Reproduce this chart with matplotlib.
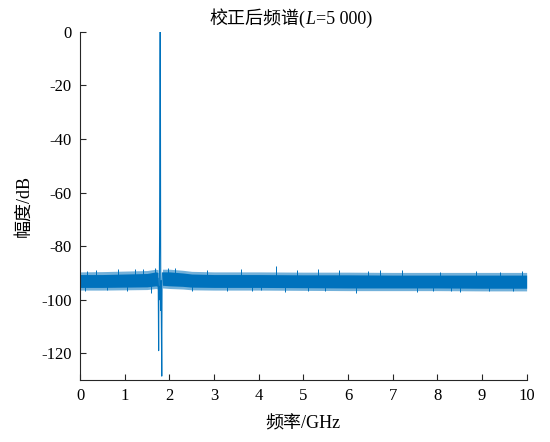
"""Corrected spectrum plot (L = 5 000), MATLAB-style look."""

import matplotlib
matplotlib.use("Agg")
import matplotlib.pyplot as plt
from matplotlib.offsetbox import AnnotationBbox, HPacker, TextArea

# noise floor envelope (GHz, dB)
band_freq_left = [0.0, 0.5, 1.0, 1.5, 1.70, 1.745]
band_core_hi_left = [-90.6, -90.6, -90.4, -90.2, -89.6, -89.8]
band_core_lo_left = [-95.4, -95.4, -95.3, -95.2, -94.8, -95.0]
band_edge_hi_left = [-89.6, -89.5, -89.3, -89.1, -88.6, -88.8]
band_edge_lo_left = [-96.4, -96.4, -96.3, -96.2, -95.8, -96.0]

band_freq_right = [1.845, 2.0, 2.3, 2.5, 3.0, 4.0, 5.0, 6.0, 7.0, 8.0, 9.0, 10.0]
band_core_hi_right = [-89.6, -89.6, -90.0, -90.4, -90.6, -90.6, -90.7, -90.7, -90.8, -90.8, -90.8, -90.8]
band_core_lo_right = [-94.6, -94.8, -95.0, -95.3, -95.4, -95.4, -95.5, -95.6, -95.6, -95.6, -95.7, -95.7]
band_edge_hi_right = [-88.6, -88.6, -89.0, -89.4, -89.6, -89.6, -89.7, -89.7, -89.8, -89.8, -89.8, -89.8]
band_edge_lo_right = [-95.6, -95.8, -96.0, -96.3, -96.4, -96.4, -96.5, -96.6, -96.6, -96.6, -96.7, -96.7]

# isolated noise spikes that stick out of the band
spike_freq = [0.11, 0.15, 0.35, 0.60, 0.85, 1.05, 1.23, 1.41, 1.60, 1.68, 1.97,
              2.12, 2.50, 2.85, 3.30, 3.60, 3.85, 4.06, 4.38, 4.60, 4.85, 5.10,
              5.33, 5.48, 5.80, 6.19, 6.45, 6.71, 7.20, 7.55, 7.90, 8.05, 8.30,
              8.50, 8.87, 9.15, 9.40, 9.70, 9.90]
spike_db = [-96.8, -89.3, -88.9, -96.5, -88.4, -96.6, -88.6, -88.5, -97.3, -88.0, -88.0,
            -88.3, -96.8, -89.0, -96.8, -88.6, -96.9, -96.5, -87.5, -97.0, -88.8, -96.9,
            -88.6, -96.7, -89.0, -97.5, -89.1, -88.8, -89.0, -97.0, -96.7, -89.5, -96.9,
            -97.0, -89.2, -96.8, -89.5, -96.8, -89.3]

# main tone and its side excursions
peak_freq = [1.745, 1.752, 1.760, 1.766, 1.774, 1.782, 1.790, 1.795, 1.800, 1.805,
             1.810, 1.816, 1.822, 1.830, 1.836, 1.845]
peak_db = [-92.0, -96.0, -119.0, -95.0, -100.0, -74.0, -15.0, 0.0, -20.0, -80.0,
           -104.0, -93.0, -110.0, -128.5, -95.0, -90.0]

x_ticks = list(range(0, 11))
y_ticks = [0, -20, -40, -60, -80, -100, -120]

title_parts = ["校正后频谱(", "L", "=5 000)"]

LINE_COLOR = "#0072BD"
AXIS_COLOR = "#262626"
FONT = ["Liberation Serif", "Noto Sans CJK SC"]

plt.rcParams["font.family"] = FONT
plt.rcParams["axes.unicode_minus"] = False

fig = plt.figure(figsize=(5.5, 4.42), dpi=100)
ax = fig.add_axes([0.1455, 0.140, 0.812, 0.788])

for freq, e_hi, e_lo, c_hi, c_lo in (
    (band_freq_left, band_edge_hi_left, band_edge_lo_left, band_core_hi_left, band_core_lo_left),
    (band_freq_right, band_edge_hi_right, band_edge_lo_right, band_core_hi_right, band_core_lo_right),
):
    ax.fill_between(freq, e_lo, e_hi, color=LINE_COLOR, alpha=0.55, linewidth=0)
    ax.fill_between(freq, c_lo, c_hi, color=LINE_COLOR, linewidth=0)

spike_base = [-93.0] * len(spike_freq)
ax.vlines(spike_freq, spike_base, spike_db, color=LINE_COLOR, linewidth=0.7)

ax.plot(peak_freq, peak_db, color=LINE_COLOR, linewidth=0.8)

ax.set_xlim(0, 10)
ax.set_ylim(-130, 0)
ax.set_xticks(x_ticks)
ax.set_yticks(y_ticks)
ax.tick_params(direction="in", length=4, width=0.8, colors=AXIS_COLOR,
               labelcolor="black", labelsize=12, pad=6)

for side in ("top", "right"):
    ax.spines[side].set_visible(False)
for side in ("left", "bottom"):
    ax.spines[side].set_color(AXIS_COLOR)
    ax.spines[side].set_linewidth(0.8)

ax.set_xlabel("频率/GHz", fontsize=13, labelpad=8)
ax.set_ylabel("幅度/dB", fontsize=13, labelpad=6)

# title with an italic L, packed from three text pieces
pieces = [
    TextArea(title_parts[0], textprops=dict(family=FONT, size=13)),
    TextArea(title_parts[1], textprops=dict(family=FONT, size=13, style="italic")),
    TextArea(title_parts[2], textprops=dict(family=FONT, size=13)),
]
title_box = HPacker(children=pieces, align="baseline", pad=0, sep=0)
ab = AnnotationBbox(title_box, (0.472, 1.0), xycoords="axes fraction",
                    box_alignment=(0.5, 0.0), xybox=(0, 3), boxcoords="offset points",
                    frameon=False, annotation_clip=False)
ax.add_artist(ab)

fig.savefig("out.png", dpi=100)
